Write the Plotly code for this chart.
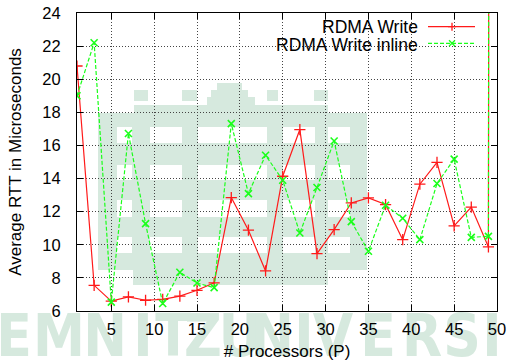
import plotly.graph_objects as go

# ---------------- data ----------------
processors = [1, 3, 5, 7, 9, 11, 13, 15, 17, 19, 21, 23, 25, 27, 29, 31, 33,
              35, 37, 39, 41, 43, 45, 47, 49, 50]
rdma_write = [20.8, 7.55, 6.6, 6.85, 6.65, 6.7, 6.9, 7.25, 7.7, 12.85, 10.88,
              8.42, 14.14, 16.96, 9.47, 10.92, 12.53, 12.83, 12.43, 10.31,
              13.66, 14.98, 11.14, 12.28, 9.87, 500]
rdma_write_inline = [19.0, 22.2, 6.54, 16.72, 11.28, 6.45, 8.34, 7.69, 7.41,
                     17.32, 13.09, 15.41, 13.9, 10.71, 13.46, 16.27, 11.4,
                     9.61, 12.39, 11.6, 10.31, 13.7, 15.17, 10.45, 10.51, 500]
series_names = ["RDMA Write", "RDMA Write inline"]
x_ticks = [5, 10, 15, 20, 25, 30, 35, 40, 45, 50]
y_ticks = [6, 8, 10, 12, 14, 16, 18, 20, 22, 24]

# watermark lettering (decorative background, pixel positions on the page)
wm_letters = list("EMNITZUNIVERSIT")
wm_px = [14, 59, 105, 143, 173, 203, 240, 272, 304, 333, 378, 422, 462, 492, 521]

# ---------------- geometry ----------------
W, H = 511, 362
L, R, T, B = 77, 14, 13, 51

WM = "#d6e9de"
RED = "#ff1a1a"
GREEN = "#1aff1a"
FONT = "Liberation Sans, Arial, sans-serif"

fig = go.Figure()

# page-sized helper subplot (x/y in page pixels) carrying the watermark,
# drawn underneath the chart subplot (x2/y2)
fig.add_trace(go.Scatter(
    x=wm_px, y=[341] * len(wm_px), xaxis="x", yaxis="y",
    mode="text", text=wm_letters, cliponaxis=False,
    textfont=dict(family="Liberation Sans Narrow, DejaVu Sans Condensed, Arial",
                  size=58, color=WM, weight="bold"),
    hoverinfo="skip", showlegend=False))

fig.add_trace(go.Scatter(
    x=processors, y=rdma_write, name=series_names[0], mode="lines+markers",
    xaxis="x2", yaxis="y2",
    line=dict(color=RED, width=1.2),
    marker=dict(symbol="cross-thin", size=8, line=dict(color=RED, width=1.3)),
    showlegend=False))
fig.add_trace(go.Scatter(
    x=processors, y=rdma_write_inline, name=series_names[1], mode="lines+markers",
    xaxis="x2", yaxis="y2",
    line=dict(color=GREEN, width=1.2, dash="4px,2px"),
    marker=dict(symbol="x-thin", size=7, line=dict(color=GREEN, width=1.6)),
    showlegend=False))

shapes = []

def rect(x0, y0, x1, y1, color, layer="below"):
    shapes.append(dict(type="rect", xref="x", yref="y",
                       x0=x0, x1=x1, y0=y0, y1=y1,
                       fillcolor=color, line=dict(width=0), layer=layer))

# background logo (building) approximation
rect(98, 113, 367, 270, WM)
rect(134, 105, 328, 113, WM)
rect(133, 270, 328, 285, WM)
for a, b in [(134, 148), (182, 197), (267, 278), (314, 328)]:
    rect(a, 90, b, 101, WM)
rect(217, 83, 242, 105, WM)
rect(211, 90, 248, 105, WM)
rect(207, 97, 255, 105, WM)
for (ya, yb) in [(127, 143), (165, 180), (200, 217), (237, 253)]:
    for (xa, xb) in [(117, 132), (150, 182), (198, 267), (283, 315), (328, 350)]:
        rect(xa, ya, xb, yb, "white")

# legend samples (gnuplot style: text left, sample right)
def hline(x0, x1, y, color, dash="solid"):
    shapes.append(dict(type="line", xref="x", yref="y",
                       x0=x0, x1=x1, y0=y, y1=y,
                       line=dict(color=color, width=1.2, dash=dash),
                       layer="above"))

def path(d, color):
    shapes.append(dict(type="path", xref="x", yref="y", path=d,
                       line=dict(color=color, width=1.3), layer="above"))

hline(428, 475, 26.7, RED)
cx, cy, s = 452, 26.7, 4
path(f"M{cx-s},{cy} L{cx+s},{cy} M{cx},{cy-s} L{cx},{cy+s}", RED)
hline(428, 475, 43.3, GREEN, "4px,2px")
cx, cy, s = 452, 43.3, 3
path(f"M{cx-s},{cy-s} L{cx+s},{cy+s} M{cx-s},{cy+s} L{cx+s},{cy-s}", GREEN)

annotations = [
    dict(text=series_names[0], xref="x", yref="y", x=420, y=26.5,
         xanchor="right", yanchor="middle", showarrow=False,
         font=dict(family=FONT, size=17.5, color="black")),
    dict(text=series_names[1], xref="x", yref="y", x=420, y=44.5,
         xanchor="right", yanchor="middle", showarrow=False,
         font=dict(family=FONT, size=17.5, color="black")),
]

axis_common = dict(
    showline=True, linecolor="black", linewidth=1, mirror="ticks",
    ticks="inside", ticklen=6, tickcolor="black", tickwidth=1,
    showgrid=True, gridcolor="#444", gridwidth=1, griddash="1px,2px",
    zeroline=False, automargin=False,
    tickfont=dict(family=FONT, size=16.5, color="black"),
)

fig.update_layout(
    width=W, height=H,
    margin=dict(l=0, r=0, t=0, b=0, pad=0, autoexpand=False),
    paper_bgcolor="white", plot_bgcolor="rgba(0,0,0,0)",
    font=dict(family=FONT, color="black"),
    shapes=shapes, annotations=annotations,
    xaxis=dict(domain=[0, 1], range=[0, W], visible=False, fixedrange=True,
               automargin=False),
    yaxis=dict(domain=[0, 1], range=[H, 0], visible=False, fixedrange=True,
               automargin=False),
    xaxis2=dict(domain=[L / W, (W - R) / W], anchor="y2", range=[1, 50],
                tickvals=x_ticks, ticklabelstandoff=3,
                title=dict(text="# Processors (P)", font=dict(family=FONT, size=17),
                           standoff=8),
                **axis_common),
    yaxis2=dict(domain=[B / H, (H - T) / H], anchor="x2", range=[6, 24],
                tickvals=y_ticks, ticklabelstandoff=12,
                title=dict(text="Average RTT in Microseconds",
                           font=dict(family=FONT, size=17), standoff=16),
                **axis_common),
)

fig.write_html("out.html")
